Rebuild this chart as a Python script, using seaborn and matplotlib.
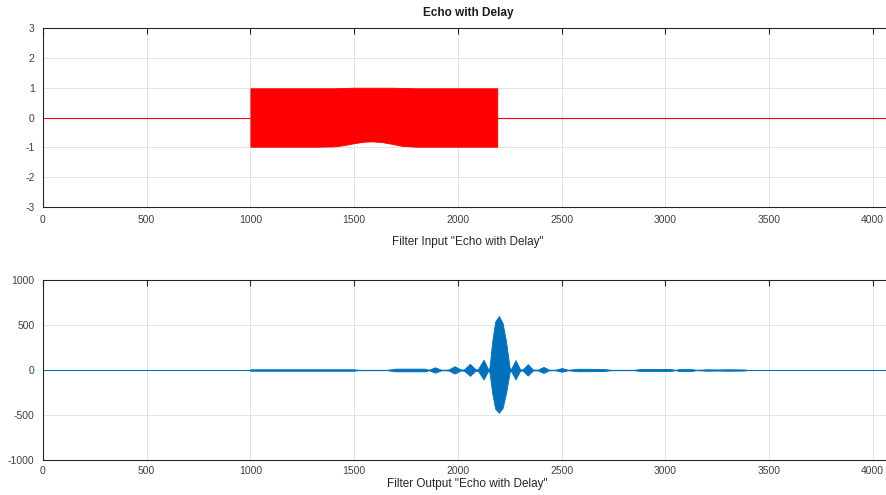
import seaborn as sns
import matplotlib.pyplot as plt
import numpy as np

# Envelope of the input burst, samples 1000..2190
in_x = [1000, 1100, 1200, 1300, 1400, 1450, 1500, 1550, 1586, 1630, 1680, 1730, 1800, 1900, 2000, 2100, 2190]
in_upper = [0.98, 0.98, 0.98, 0.98, 0.98, 0.99, 1.0, 1.0, 1.0, 1.0, 1.0, 0.99, 0.98, 0.98, 0.98, 0.98, 0.98]
in_lower = [-0.98, -0.98, -0.98, -0.98, -0.97, -0.93, -0.86, -0.81, -0.80, -0.82, -0.88, -0.95, -0.98, -0.98, -0.98, -0.98, -0.98]
in_start, in_end = 1000, 2190

# Envelope of the filter output
out_x = [0, 995, 1000, 1500, 1520, 1660, 1700, 1840, 1860, 1890, 1920, 1955, 1984, 2015,
         2030, 2058, 2085, 2097, 2124, 2146, 2152, 2166, 2180, 2198, 2216, 2232, 2250,
         2256, 2278, 2300, 2312, 2337, 2362, 2385, 2413, 2440, 2470, 2501, 2530, 2580,
         2700, 2740, 2850, 2880, 3020, 3050, 3065, 3130, 3150, 3200, 3250, 3300, 3380, 3400, 4096]
out_upper = [0, 0, 8, 8, 2, 2, 15, 15, 3, 30, 3, 5, 42, 5,
             8, 68, 8, 10, 115, 10, 20, 320, 540, 600, 520, 320, 20,
             10, 110, 8, 6, 65, 5, 4, 35, 3, 3, 22, 3, 14,
             12, 2, 2, 12, 12, 2, 10, 10, 2, 8, 6, 8, 6, 0, 0]
out_lower = [0, 0, -8, -8, -2, -2, -15, -15, -3, -30, -3, -5, -40, -5,
             -8, -65, -8, -10, -105, -10, -20, -260, -430, -475, -420, -260, -20,
             -10, -105, -8, -6, -62, -5, -4, -33, -3, -3, -20, -3, -14,
             -12, -2, -2, -12, -12, -2, -10, -10, -2, -8, -6, -8, -6, 0, 0]

n_samples = 4096
x_ticks = [0, 500, 1000, 1500, 2000, 2500, 3000, 3500, 4000]

sns.set_theme(style="whitegrid")
plt.rcParams['font.family'] = ['Liberation Sans', 'DejaVu Sans']
plt.rcParams['axes.unicode_minus'] = False

fig = plt.figure(figsize=(8.86, 4.95), dpi=100)
ax1 = fig.add_axes([0.0485, 0.5818, 0.959, 0.3616])
ax2 = fig.add_axes([0.0485, 0.0707, 0.959, 0.3636])

red = '#FF0000'
blue = '#0072BD'
text_col = '#404040'

# top: input
sns.lineplot(x=[0, in_start], y=[0, 0], ax=ax1, color=red, linewidth=0.8)
sns.lineplot(x=[in_end, n_samples], y=[0, 0], ax=ax1, color=red, linewidth=0.8)
ax1.fill_between(in_x, in_lower, in_upper, color=red, linewidth=0.6)
ax1.set_ylim(-3, 3)
ax1.set_yticks([-3, -2, -1, 0, 1, 2, 3])
ax1.set_title('Echo with Delay', fontsize=8.5, fontweight='bold', pad=9, color='#1a1a1a')
ax1.set_xlabel('Filter Input "Echo with Delay"', fontsize=8.5, labelpad=8, color='#262626')

# bottom: output
sns.lineplot(x=[0, n_samples], y=[0, 0], ax=ax2, color=blue, linewidth=0.8)
ax2.fill_between(out_x, out_lower, out_upper, color=blue, linewidth=0.6)
ax2.set_ylim(-1000, 1000)
ax2.set_yticks([-1000, -500, 0, 500, 1000])
ax2.set_xlabel('Filter Output "Echo with Delay"', fontsize=8.5, labelpad=2, color='#262626')

for ax in (ax1, ax2):
    ax.set_xlim(0, n_samples)
    ax.set_xticks(x_ticks)
    ax.set_facecolor('white')
    ax.grid(True, color='#E3E3E3', linewidth=0.7)
    ax.tick_params(axis='both', direction='in', length=4, width=0.8, colors='#262626',
                   labelsize=7.5, labelcolor=text_col, top=True, right=True)
    ax.tick_params(axis='y', pad=6)
    for side in ('left', 'bottom', 'top', 'right'):
        ax.spines[side].set_color('#262626')
        ax.spines[side].set_linewidth(0.8)

ax1.tick_params(axis='x', pad=6)
ax2.tick_params(axis='x', pad=4)

fig.savefig('out.png', dpi=100)
